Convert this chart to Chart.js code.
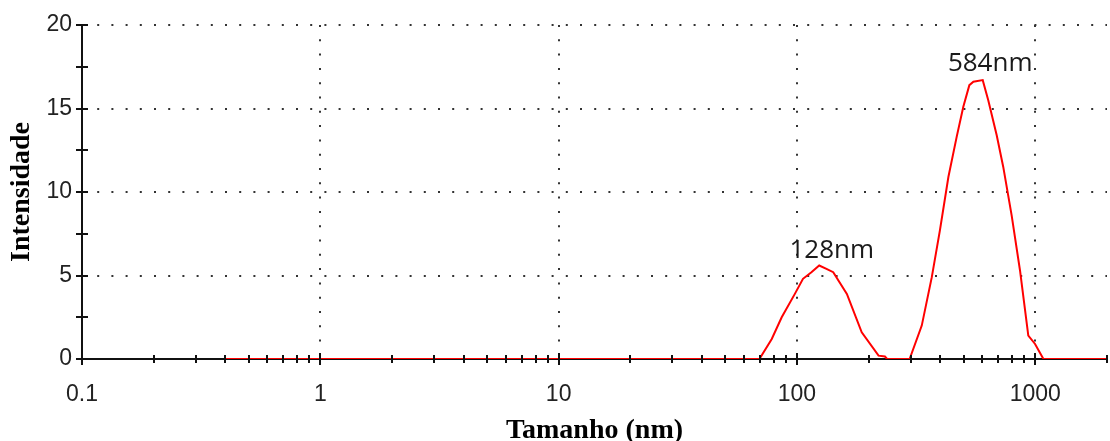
<!DOCTYPE html>
<html>
<head>
<meta charset="utf-8">
<script src="https://cdn.jsdelivr.net/npm/chart.js@4"></script>
<style>
  html, body { margin: 0; padding: 0; background: #fff; }
  canvas { display: block; }
</style>
</head>
<body>
<canvas id="dls" width="1110" height="441"></canvas>
<script>
// size distribution (nm vs intensity %)
var sizes = [0.4, 69.6, 78.4, 86.3, 98, 106, 115, 124, 133, 142, 162, 187, 220, 234, 239,
             297, 334, 368, 398, 432, 468, 499, 529, 550, 602, 635, 689, 734, 796, 863, 935, 998, 1082, 2000];
var intensity = [0, 0, 1.2, 2.5, 3.9, 4.8, 5.2, 5.6, 5.4, 5.2, 3.9, 1.6, 0.2, 0.15, 0,
                 0, 2.0, 4.9, 7.7, 10.9, 13.3, 15.1, 16.4, 16.6, 16.7, 15.5, 13.4, 11.5, 8.6, 5.3, 1.4, 0.9, 0, 0];

var peakLabels = ['128nm', '584nm'];
var peakX = [140, 647];
var peakY = [6.05, 17.25];

var xDecades = [0.1, 1, 10, 100, 1000];
var xMax = 2000;
var yMax = 20;

var tickFont = { family: '"Liberation Sans", Arial, sans-serif', size: 23 };
var titleFont = { family: '"Liberation Serif", "Times New Roman", serif', size: 28, weight: 'bold' };

function isDecade(v) {
    var l = Math.log10(v);
    return Math.abs(l - Math.round(l)) < 1e-6;
}

// small tick marks drawn over the line, like the instrument software does
var tickMarks = {
    id: 'tickMarks',
    afterDatasetsDraw: function (chart) {
        var ctx = chart.ctx, x = chart.scales.x, y = chart.scales.y;
        ctx.save();
        ctx.strokeStyle = '#111';
        ctx.lineWidth = 2;
        ctx.beginPath();
        x.ticks.forEach(function (t) {
            var px = Math.round(x.getPixelForValue(t.value));
            var h = isDecade(t.value) ? 6 : 4;
            ctx.moveTo(px, y.bottom - h);
            ctx.lineTo(px, y.bottom + h);
        });
        y.ticks.forEach(function (t) {
            var py = Math.round(y.getPixelForValue(t.value));
            ctx.moveTo(x.left - 6, py);
            ctx.lineTo(x.left + 6, py);
        });
        ctx.stroke();
        ctx.restore();
    }
};

var peakText = {
    id: 'peakText',
    afterDatasetsDraw: function (chart) {
        var ctx = chart.ctx, x = chart.scales.x, y = chart.scales.y;
        ctx.save();
        ctx.fillStyle = '#1a1a1a';
        ctx.font = '26px "Open Sans", sans-serif';
        ctx.textAlign = 'center';
        ctx.textBaseline = 'alphabetic';
        peakLabels.forEach(function (txt, i) {
            ctx.fillText(txt, x.getPixelForValue(peakX[i]), y.getPixelForValue(peakY[i]));
        });
        ctx.restore();
    }
};

var dls = document.getElementById('dls').getContext('2d');
var dlsChart = new Chart(dls, {
    type: 'line',
    data: {
        labels: sizes,
        datasets: [{
            data: sizes.map(function (s, i) { return { x: s, y: intensity[i] }; }),
            borderColor: '#ff0000',
            borderWidth: 2,
            pointRadius: 0,
            tension: 0,
            fill: false
        }]
    },
    options: {
        responsive: false,
        animation: false,
        layout: { padding: { top: 25, right: 3, left: 0, bottom: 0 } },
        plugins: {
            legend: { display: false },
            tooltip: { enabled: false }
        },
        scales: {
            x: {
                type: 'logarithmic',
                min: 0.1,
                max: xMax,
                afterBuildTicks: function (scale) {
                    var t = [];
                    xDecades.forEach(function (d) {
                        if (d >= 1000) return;
                        for (var m = 1; m <= 9; m++) t.push({ value: +(m * d).toPrecision(6) });
                    });
                    t.push({ value: 1000 }, { value: xMax });
                    scale.ticks = t;
                },
                afterFit: function (scale) {
                    scale.height = 82;
                    scale.paddingLeft = 0;
                    scale.paddingRight = 0;
                },
                grid: {
                    drawTicks: false,
                    lineWidth: 2,
                    color: function (c) {
                        var v = c.tick ? c.tick.value : 0;
                        return (isDecade(v) && v > 0.1 && v <= 1000) ? '#333' : 'rgba(0,0,0,0)';
                    }
                },
                border: { color: '#111', width: 2, dash: [2, 12.3] },
                ticks: {
                    autoSkip: false,
                    maxRotation: 0,
                    padding: 22,
                    color: '#222',
                    font: tickFont,
                    callback: function (v) {
                        return (isDecade(v) && xDecades.indexOf(v) >= 0) ? String(v) : '';
                    }
                },
                title: {
                    display: true,
                    text: 'Tamanho (nm)',
                    color: '#000',
                    font: Object.assign({ lineHeight: 0.7 }, titleFont),
                    padding: 0
                }
            },
            y: {
                min: 0,
                max: yMax,
                afterFit: function (scale) { scale.width = 82; },
                grid: {
                    drawTicks: false,
                    lineWidth: 2,
                    color: function (c) {
                        var v = c.tick ? c.tick.value : 0;
                        return (v > 0 && v % 5 === 0) ? '#333' : 'rgba(0,0,0,0)';
                    }
                },
                border: { color: '#111', width: 2, dash: [2, 12.2] },
                ticks: {
                    stepSize: 2.5,
                    padding: 10,
                    color: '#222',
                    font: tickFont,
                    callback: function (v) { return v % 5 === 0 ? v : ''; }
                },
                title: {
                    display: true,
                    text: 'Intensidade',
                    color: '#000',
                    font: Object.assign({ lineHeight: 1 }, titleFont),
                    padding: { top: 8, bottom: 0 }
                }
            }
        }
    },
    plugins: [tickMarks, peakText]
});
</script>
</body>
</html>
